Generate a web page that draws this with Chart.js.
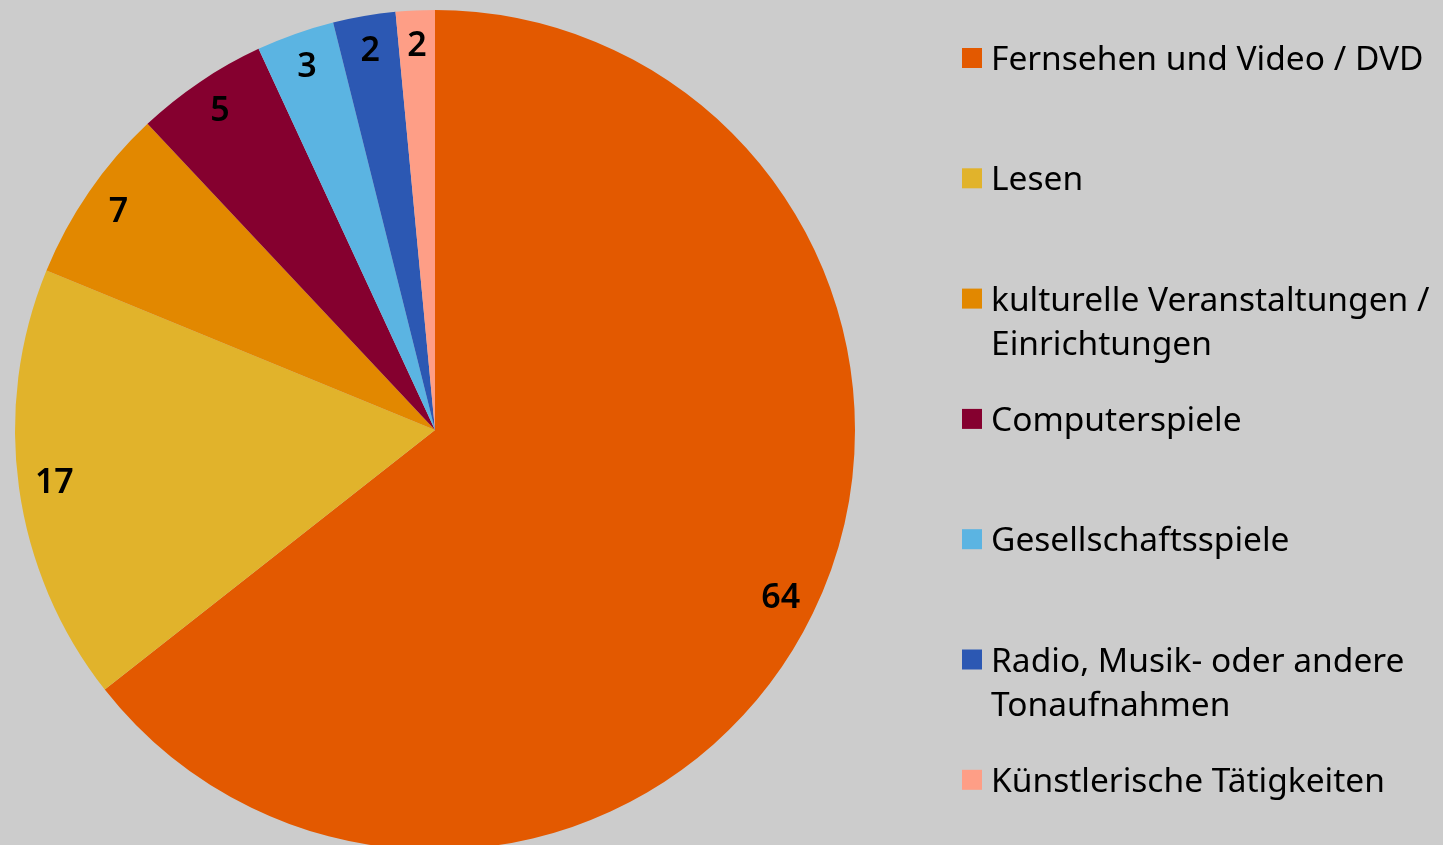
<!DOCTYPE html>
<html>
<head>
<meta charset="utf-8">
<script src="https://cdn.jsdelivr.net/npm/chart.js@4"></script>
<style>
  html, body { margin: 0; padding: 0; background: #cccccc; overflow: hidden; }
  #wrap { position: relative; width: 1443px; height: 860px; }
</style>
</head>
<body>
<div id="wrap"><canvas id="grafica"></canvas></div>
<script>
// Daten
const kategorien = [
  'Fernsehen und Video / DVD',
  'Lesen',
  ['kulturelle Veranstaltungen /', 'Einrichtungen'],
  'Computerspiele',
  'Gesellschaftsspiele',
  ['Radio, Musik- oder andere', 'Tonaufnahmen'],
  'Künstlerische Tätigkeiten'
];
// Anteile in Prozent (aus den Segmentgrößen geschätzt), angezeigt gerundet
const werte = [64.4, 16.8, 6.8, 5.1, 3.0, 2.4, 1.5];
const farben = ['#e35900', '#e1b32b', '#e28800', '#85002f', '#5bb4e2', '#2c58b3', '#fe9e86'];

const schrift = '"Noto Sans", "Open Sans", sans-serif';

// Zahlen in den Segmenten
const wertLabels = {
  id: 'wertLabels',
  afterDatasetsDraw(chart) {
    const ctx = chart.ctx;
    const meta = chart.getDatasetMeta(0);
    ctx.save();
    ctx.font = '600 34px ' + schrift;
    ctx.fillStyle = '#000';
    ctx.textAlign = 'center';
    ctx.textBaseline = 'middle';
    meta.data.forEach((arc, i) => {
      const mitte = (arc.startAngle + arc.endAngle) / 2;
      const r = arc.outerRadius * 0.915;
      ctx.fillText(Math.round(werte[i]), arc.x + Math.cos(mitte) * r, arc.y + Math.sin(mitte) * r);
    });
    ctx.restore();
  }
};

// Legende rechts
const legende = {
  id: 'legende',
  afterDraw(chart) {
    const ctx = chart.ctx;
    ctx.save();
    ctx.font = '33.5px ' + schrift;
    ctx.textBaseline = 'alphabetic';
    ctx.textAlign = 'left';
    kategorien.forEach((kat, i) => {
      const basis = 70 + i * 120.3;
      ctx.fillStyle = farben[i];
      ctx.fillRect(962, basis - 22, 20, 20);
      ctx.fillStyle = '#000';
      const zeilen = Array.isArray(kat) ? kat : [kat];
      zeilen.forEach((z, j) => ctx.fillText(z, 991, basis + j * 44));
    });
    ctx.restore();
  }
};

const canvas = document.getElementById('grafica');
new Chart(canvas, {
  type: 'pie',
  data: {
    labels: kategorien,
    datasets: [{
      data: werte,
      backgroundColor: farben,
      borderWidth: 0
    }]
  },
  options: {
    responsive: true,
    maintainAspectRatio: false,
    animation: false,
    layout: { padding: { left: 15, top: 10, right: 588, bottom: 10 } },
    plugins: {
      legend: { display: false },
      tooltip: { enabled: false }
    }
  },
  plugins: [wertLabels, legende]
});
</script>
</body>
</html>
